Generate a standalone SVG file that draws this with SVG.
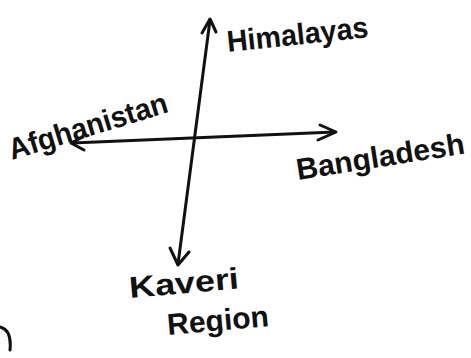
<svg xmlns="http://www.w3.org/2000/svg" width="471" height="358" viewBox="0 0 471 358">
<style>
.ln{stroke:#111;stroke-width:3;fill:none;stroke-linecap:round;stroke-linejoin:round}
.t{font-family:"Liberation Sans","DejaVu Sans",sans-serif;font-size:30px;font-weight:bold;fill:#111}
</style>
<rect width="471" height="358" fill="#fff"/>
<g id="connectors">
<path class="ln" d="M210,20 L178,264"/>
<path class="ln" d="M202,33 L210,19 L216,32"/>
<path class="ln" d="M170,248 L178,265 L189,252"/>
<path class="ln" d="M72,143 L335,132"/>
<path class="ln" d="M83,137 L71,143 L84,150"/>
<path class="ln" d="M320,125 L336,132 L318,140"/>
</g>
<g id="himalayas"><text class="t" x="228" y="52" textLength="142" lengthAdjust="spacingAndGlyphs" transform="rotate(-6 228 52)">Himalayas</text></g>
<g id="afghanistan"><text class="t" x="12" y="160" textLength="165" lengthAdjust="spacingAndGlyphs" transform="rotate(-17 12 160)">Afghanistan</text></g>
<g id="bangladesh"><text class="t" x="298" y="180" textLength="170" lengthAdjust="spacingAndGlyphs" transform="rotate(-9 298 180)">Bangladesh</text></g>
<g id="kaveri"><text class="t" x="130" y="298" textLength="110" lengthAdjust="spacingAndGlyphs" transform="rotate(-5 130 298)">Kaveri</text>
<text class="t" x="168" y="335" textLength="102" lengthAdjust="spacingAndGlyphs" transform="rotate(-5 168 335)">Region</text></g>
<path class="ln" d="M0,327 Q12,330 10,350"/>
</svg>
